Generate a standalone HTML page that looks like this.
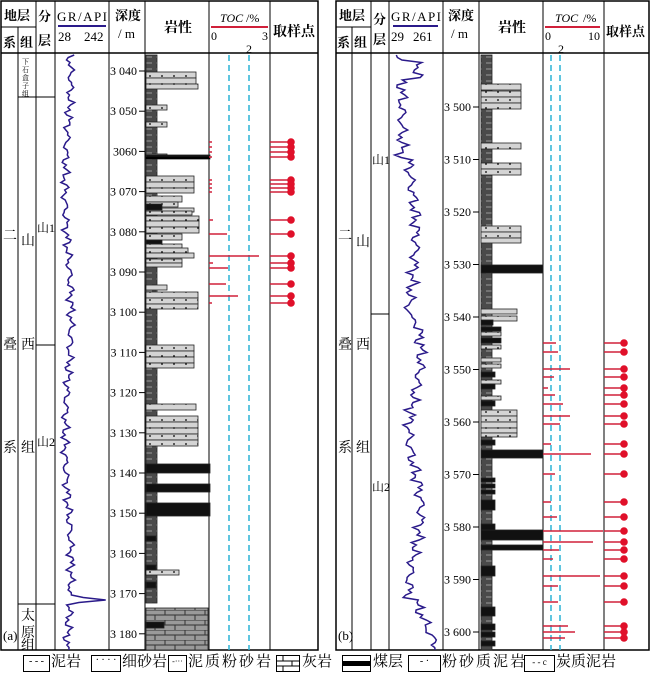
<!DOCTYPE html>
<html><head><meta charset="utf-8"><style>
body{margin:0;background:#fff}
svg text{font-family:"Liberation Serif","Noto Serif CJK SC",serif;fill:#000}
.lg span{position:absolute;white-space:nowrap}
</style></head><body>
<svg id="s" width="650" height="676" viewBox="0 0 650 676" xmlns="http://www.w3.org/2000/svg">
<defs>
<pattern id="mud" width="11" height="6" patternUnits="userSpaceOnUse"><rect width="11" height="6" fill="#4a4a4a"/><line x1="2" y1="3" x2="9" y2="3" stroke="#999" stroke-width="1"/></pattern>
<pattern id="sand" width="12" height="8" patternUnits="userSpaceOnUse"><rect width="12" height="8" fill="#d4d4d4"/><circle cx="6" cy="4" r="0.9" fill="#000"/></pattern>
<pattern id="lime" width="20" height="10" patternUnits="userSpaceOnUse"><rect width="20" height="10" fill="#9a9a9a"/><path d="M0 0H20M0 5H20M5 0V5M15 5V10" stroke="#333" stroke-width="1"/></pattern>
</defs>
<g id="g"></g>
</svg>
<script>
var g=document.getElementById('g'),h='';
function L(x1,y1,x2,y2,c,w,d){h+='<line x1="'+x1+'" y1="'+y1+'" x2="'+x2+'" y2="'+y2+'" stroke="'+(c||'#000')+'" stroke-width="'+(w||1)+'"'+(d?' stroke-dasharray="'+d+'"':'')+'/>';}
function R(x,y,w,hh,f,s){h+='<rect x="'+x+'" y="'+y+'" width="'+w+'" height="'+hh+'" fill="'+f+'" stroke="'+(s||'#222')+'" stroke-width="0.8"/>';}
function T(x,y,t,sz,a,st){h+='<text x="'+x+'" y="'+y+'" font-size="'+(sz||13)+'"'+(a?' text-anchor="'+a+'"':'')+(st?' '+st:'')+'>'+t+'</text>';}
function C(x,y){h+='<circle cx="'+x+'" cy="'+y+'" r="3.8" fill="#e0102a"/>';}
function frame(x0,x1,cols){
 h+='<rect x="'+x0+'" y="1" width="'+(x1-x0)+'" height="649" fill="none" stroke="#000" stroke-width="1.5"/>';
 L(x0,53,x1,53,'#000',1.5);
 cols.forEach(function(c,i){L(c,i==0?27:1,c,650,'#000',1)});
 L(x0,27,cols[1],27);
}
frame(1,318,[18,36,55,109,145,209,270]);
frame(336,649,[352,371,389,443,479,543,604]);
var B='font-weight="bold"';
// header a
T(4,20,'地层',13,null,B);T(3,47,'系',13,null,B);T(20,47,'组',13,null,B);T(38,21,'分',13,null,B);T(38,45,'层',13,null,B);
T(57,21,'GR/API',13,null,'textLength="50"');L(58,26,106,26,'#2a1a8a',2);T(58,41,'28',13);T(84,41,'242',13);
T(115,20,'深度',13,null,B);T(118,38,'/ m',13);T(164,32,'岩性',14,null,B);
T(220,22,'TOC',12,null,'font-style="italic"');T(246,22,'/%',12);L(211,27,268,27,'#d0203a',2);T(211,40,'0',12);T(262,40,'3',12);T(246,53,'2',12);
T(273,36,'取样点',14,null,B);
// header b
T(339,20,'地层',13,null,B);T(337,47,'系',13,null,B);T(354,47,'组',13,null,B);T(373,24,'分',13,null,B);T(373,44,'层',13,null,B);
T(391,21,'GR/API',13,null,'textLength="50"');L(393,26,438,26,'#2a1a8a',2);T(391,41,'29',13);T(413,41,'261',13);
T(448,20,'深度',13,null,B);T(451,38,'/ m',13);T(498,32,'岩性',14,null,B);
T(555,22,'TOC',12,null,'font-style="italic"');T(583,22,'/%',12);L(545,27,600,27,'#d0203a',2);T(545,40,'0',12);T(588,40,'10',12);T(558,53,'2',12);
T(606,36,'取样点',13,null,B);
// strat text a
[['二',240],['叠',349],['系',452]].forEach(function(a){T(3,a[1],a[0],14)});
[['山',245],['西',349],['组',452]].forEach(function(a){T(21,a[1],a[0],14)});
L(18,97,55,97);L(18,604,55,604);
['下','石','盒','子','组'].forEach(function(c,i){T(22,64+i*8,c,7)});
T(37,232,'山1',12);T(37,446,'山2',12);L(36,345,55,345);
T(21,620,'太',14);T(21,637,'原',14);T(21,650,'组',14);T(3,640,'(a)',13);
// strat b
[['二',240],['叠',349],['系',452]].forEach(function(a){T(338,a[1],a[0],14)});
[['山',246],['西',349],['组',452]].forEach(function(a){T(356,a[1],a[0],14)});
T(372,164,'山1',12);T(372,491,'山2',12);L(371,314,389,314);T(338,640,'(b)',13);
// depth ticks
for(var d=3040;d<=3180;d+=10){var y=71+(d-3040)*4.02;L(139,y,145,y);T(137,y+4,(d==3060?'3060':'3 '+String(d).slice(1)),12,'end');}
for(var d=3500;d<=3600;d+=10){var y=107+(d-3500)*5.25;L(473,y,479,y);T(471,y+4,'3 '+String(d).slice(1),12,'end');}
// lith a
R(146,55,11,548,'url(#mud)');
[[72,6,50],[78,6,50],[84,5,52],[105,5,21],[122,5,21],[154,4,21],[176,6,48],[182,6,48],[188,5,48],[196,6,36],[202,5,32],[208,4,48],[211,4,46],[216,5,53],[221,6,53],[227,6,53],[234,6,36],[244,4,36],[248,5,42],[253,5,48],[259,4,36],[263,4,36],[285,5,21],[292,6,52],[298,6,52],[304,5,52],[345,6,48],[351,6,48],[357,6,48],[363,5,48],[404,6,50],[416,6,52],[422,6,52],[428,6,52],[434,6,52],[440,6,52],[570,5,33]].forEach(function(a){R(146,a[0],a[2],a[1],'url(#sand)')});
[[464,9,64],[484,8,64],[503,13,64],[204,6,16],[240,4,16],[155,4,64],[536,5,10],[565,5,10],[582,6,10]].forEach(function(a){R(146,a[0],a[2],a[1],'#111')});
L(146,158,210,158,'#000',2);
R(146,608,62,42,'url(#lime)');R(146,622,18,6,'#111');
// lith b
R(481,55,11,595,'url(#mud)');
[[84,6,40],[91,6,40],[97,6,40],[103,6,40],[143,6,40],[163,6,40],[169,6,40],[226,6,40],[232,6,40],[238,5,40],[309,5,36],[316,5,36],[332,4,20],[345,4,20],[358,4,20],[364,4,20],[380,4,20],[396,4,20],[410,6,36],[416,6,36],[422,6,36],[428,5,36],[433,4,36]].forEach(function(a){R(481,a[0],a[2],a[1],'url(#sand)')});
[[265,8,62],[450,8,62],[530,10,62],[545,5,62],[320,5,12],[327,4,20],[338,5,20],[372,5,14],[384,5,14],[401,5,14],[440,5,14],[478,4,14],[484,4,14],[490,4,14],[500,10,14],[524,6,14],[566,10,14],[607,9,14],[624,6,14],[632,5,14],[641,5,14]].forEach(function(a){R(481,a[0],a[2],a[1],'#111')});
// TOC dashed
L(229,55,229,650,'#2cb3d6',1.5,'6 4');L(249,55,249,650,'#2cb3d6',1.5,'6 4');
L(551,55,551,650,'#2cb3d6',1.5,'6 4');L(560,55,560,650,'#2cb3d6',1.5,'6 4');
// samples a
[[142,212],[147,212],[152,212],[157,212],[180,212],[184,212],[188,212],[192,212],[220,213],[234,227],[256,259],[263,213],[268,228],[284,226],[296,238],[303,212]].forEach(function(a){L(209,a[0],a[1],a[0],'#d0203a',1.5);L(270,a[0],291,a[0],'#d0203a',1.5);C(291,a[0]);});
// samples b
[[343,556],[352,558],[369,570],[377,554],[388,548],[395,555],[404,563],[416,570],[424,560],[444,551],[454,591],[474,555],[502,551],[517,557],[531,603],[542,593],[550,559],[559,553],[576,600],[586,558],[602,558],[626,568],[632,575],[638,565]].forEach(function(a){L(543,a[0],a[1],a[0],'#d0203a',1.5);L(604,a[0],624,a[0],'#d0203a',1.5);C(624,a[0]);});
// GR curves
function gr(amp,y0,y1,seed,base){var p=[];for(var y=y0;y<=y1;y+=2.5){var b=base(y);var n=Math.sin(y*0.37+seed)*0.5+Math.sin(y*0.91+seed*2)*0.35+Math.sin(y*1.7+seed*3)*0.25;p.push((b+n*amp).toFixed(1)+','+y.toFixed(1));}
 h+='<polyline points="'+p.join(' ')+'" fill="none" stroke="#2a1a8a" stroke-width="1.5"/>';}
gr(5,55,650,1,function(y){if(y>593&&y<606)return 68+37*Math.exp(-Math.pow((y-600)/2.5,2));if(y<70)return 70;return 68+Math.sin(y/40)*3;});
gr(7,55,650,4,function(y){if(y<62)return 398;if(y<80)return 418;if(y<160)return 402;if(y<320)return 412+Math.sin(y/30)*4;if(y<600)return 415+Math.sin(y/25)*6;return 415+(y-600)*0.45;});
g.innerHTML=h;
</script>
<div class="lg" style="position:absolute;left:0;top:653px;width:650px;height:23px;font-family:'Liberation Serif','Noto Serif CJK SC',serif;font-size:15px;line-height:19px">
<span style="left:23px;top:2px;width:25px;height:15px;border:1px solid #000;font-size:10px;text-align:center;line-height:12px">- - -</span><span style="left:51px;top:0">泥岩</span>
<span style="left:91px;top:2px;width:28px;height:15px;border:1px solid #000;font-size:10px;text-align:center;line-height:10px">· · · ·</span><span style="left:122px;top:0">细砂岩</span>
<span style="left:168px;top:2px;width:17px;height:15px;border:1px solid #000;font-size:8px;text-align:center;line-height:12px">-···</span><span style="left:188px;top:0;letter-spacing:2px">泥质粉砂岩</span>
<svg style="position:absolute;left:276px;top:2px" width="24" height="17"><rect x="0.5" y="0.5" width="23" height="16" fill="#fff" stroke="#000"/><path d="M0 6H24M0 11H24M7 0V6M16 6V11M7 11V17" stroke="#000"/></svg><span style="left:302px;top:0">灰岩</span>
<svg style="position:absolute;left:342px;top:2px" width="29" height="17"><rect x="0.5" y="0.5" width="28" height="16" fill="#fff" stroke="#000"/><rect x="0" y="6" width="29" height="5" fill="#000"/></svg><span style="left:373px;top:0">煤层</span>
<span style="left:408px;top:2px;width:31px;height:15px;border:1px solid #000;font-size:10px;text-align:center;line-height:12px">- ·</span><span style="left:442px;top:0;letter-spacing:2px">粉砂质泥岩</span>
<span style="left:524px;top:2px;width:29px;height:15px;border:1px solid #000;font-size:9px;text-align:center;line-height:12px">- - c</span><span style="left:556px;top:0">炭质泥岩</span>
</div>
</body></html>
